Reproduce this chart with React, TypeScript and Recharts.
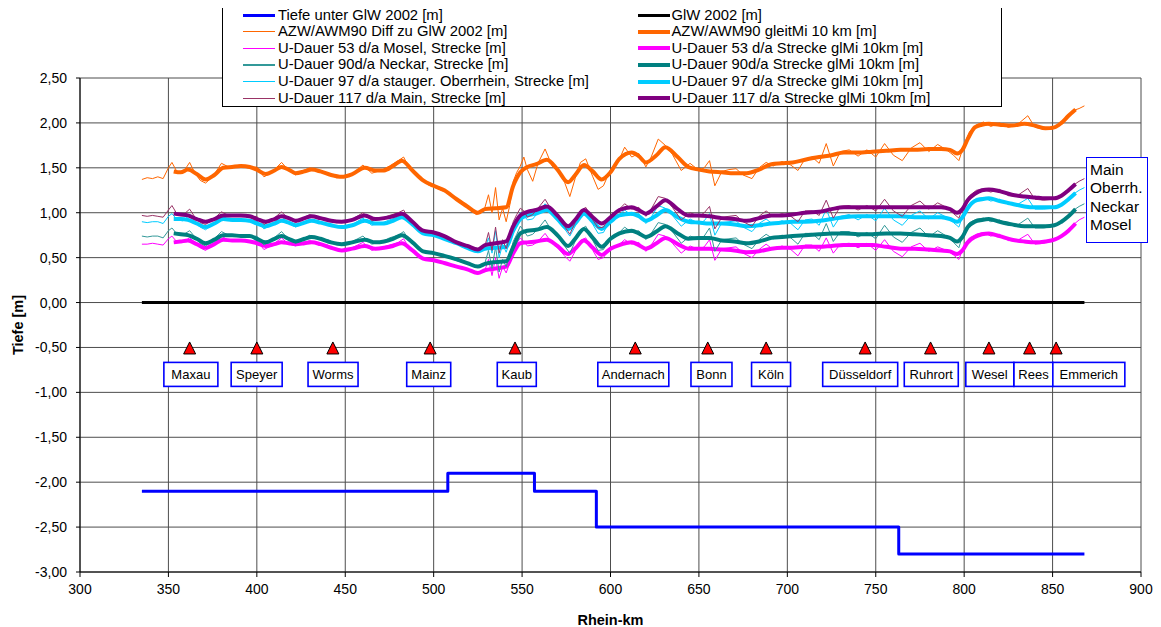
import React from 'react';
import { ComposedChart, Line, Scatter, XAxis, YAxis, CartesianGrid, Legend } from 'recharts';

// ---------- data ----------
const tiefeKm = [335, 508, 557, 592, 763, 868];
const tiefeVal = [-2.1, -1.9, -2.1, -2.5, -2.8, -2.8];
const glwKm = [335, 868];
const glwVal = [0, 0];

const smoothKm = [353, 357, 361, 366, 371, 376, 381, 386, 391, 396,
  400, 405, 410, 414, 418, 422, 427, 431, 436, 442,
  448, 454, 461, 467, 472, 477, 482, 488, 494, 500,
  506, 513, 519, 525, 529, 535, 541, 545, 549, 553,
  558, 564, 570, 576, 580, 585, 590, 595, 600, 605,
  612, 616, 620, 626, 631, 638, 644, 650, 656, 663,
  670, 677, 684, 691, 697, 703, 710, 718, 725, 732,
  740, 748, 756, 764, 772, 780, 787, 792, 796, 799,
  802, 806, 810, 814, 820, 827, 834, 840, 846, 851,
  855, 859, 863];

const azwSmooth = [1.46, 1.45, 1.48, 1.43, 1.37, 1.42, 1.50, 1.51, 1.52, 1.51,
  1.48, 1.43, 1.47, 1.51, 1.48, 1.44, 1.46, 1.48, 1.46, 1.42,
  1.40, 1.43, 1.50, 1.47, 1.47, 1.52, 1.58, 1.47, 1.36, 1.30,
  1.25, 1.15, 1.07, 1.00, 1.04, 1.05, 1.06, 1.30, 1.45, 1.51,
  1.54, 1.59, 1.48, 1.34, 1.42, 1.53, 1.46, 1.37, 1.45, 1.60,
  1.67, 1.63, 1.56, 1.64, 1.73, 1.62, 1.51, 1.48, 1.46, 1.45,
  1.44, 1.44, 1.48, 1.54, 1.55, 1.56, 1.59, 1.62, 1.64, 1.67,
  1.67, 1.68, 1.69, 1.70, 1.70, 1.71, 1.71, 1.70, 1.66, 1.70,
  1.82, 1.95, 1.98, 1.99, 1.98, 1.97, 1.99, 1.97, 1.94, 1.95,
  2.00, 2.08, 2.15];

const mainSmooth = [0.99, 0.98, 0.97, 0.93, 0.90, 0.93, 0.97, 0.97, 0.97, 0.96,
  0.93, 0.90, 0.93, 0.96, 0.94, 0.91, 0.94, 0.96, 0.94, 0.91,
  0.90, 0.92, 0.97, 0.93, 0.94, 0.96, 0.99, 0.90, 0.80, 0.78,
  0.74, 0.67, 0.63, 0.59, 0.64, 0.66, 0.68, 0.85, 0.97, 1.01,
  1.03, 1.07, 0.97, 0.85, 0.92, 1.03, 0.95, 0.88, 0.95, 1.03,
  1.06, 1.03, 0.99, 1.07, 1.14, 1.04, 0.97, 0.97, 0.96, 0.94,
  0.93, 0.91, 0.94, 0.97, 0.97, 0.98, 1.00, 1.01, 1.04, 1.06,
  1.06, 1.06, 1.06, 1.06, 1.06, 1.06, 1.06, 1.04, 1.00, 1.04,
  1.14, 1.21, 1.25, 1.26, 1.24, 1.20, 1.18, 1.17, 1.16, 1.16,
  1.19, 1.25, 1.32];

const oberSmooth = [0.93, 0.93, 0.92, 0.88, 0.84, 0.88, 0.93, 0.92, 0.92, 0.91,
  0.88, 0.85, 0.88, 0.91, 0.89, 0.86, 0.89, 0.91, 0.89, 0.86,
  0.84, 0.86, 0.91, 0.88, 0.88, 0.91, 0.95, 0.87, 0.77, 0.75,
  0.71, 0.66, 0.61, 0.57, 0.60, 0.61, 0.62, 0.80, 0.93, 0.97,
  0.99, 1.03, 0.93, 0.82, 0.88, 0.99, 0.90, 0.82, 0.90, 0.97,
  0.99, 0.96, 0.91, 0.97, 1.03, 0.95, 0.90, 0.89, 0.88, 0.88,
  0.87, 0.85, 0.86, 0.88, 0.89, 0.90, 0.90, 0.91, 0.93, 0.95,
  0.96, 0.96, 0.96, 0.96, 0.95, 0.95, 0.95, 0.93, 0.90, 0.95,
  1.05, 1.13, 1.15, 1.16, 1.13, 1.10, 1.07, 1.06, 1.06, 1.06,
  1.09, 1.15, 1.22];

const neckarSmooth = [0.77, 0.76, 0.75, 0.71, 0.66, 0.70, 0.75, 0.75, 0.74, 0.74,
  0.71, 0.67, 0.71, 0.74, 0.71, 0.68, 0.71, 0.73, 0.71, 0.67,
  0.65, 0.67, 0.70, 0.67, 0.68, 0.71, 0.75, 0.67, 0.57, 0.55,
  0.52, 0.48, 0.44, 0.40, 0.43, 0.45, 0.46, 0.62, 0.77, 0.80,
  0.81, 0.84, 0.75, 0.63, 0.71, 0.82, 0.72, 0.62, 0.71, 0.77,
  0.80, 0.77, 0.73, 0.79, 0.85, 0.77, 0.71, 0.72, 0.72, 0.69,
  0.68, 0.66, 0.68, 0.72, 0.73, 0.74, 0.75, 0.76, 0.77, 0.77,
  0.76, 0.76, 0.77, 0.77, 0.76, 0.75, 0.74, 0.72, 0.68, 0.73,
  0.84, 0.90, 0.92, 0.93, 0.90, 0.87, 0.85, 0.85, 0.85, 0.86,
  0.90, 0.96, 1.04];

const moselSmooth = [0.67, 0.68, 0.69, 0.65, 0.61, 0.65, 0.70, 0.69, 0.69, 0.68,
  0.66, 0.63, 0.65, 0.67, 0.66, 0.65, 0.66, 0.67, 0.65, 0.61,
  0.58, 0.60, 0.63, 0.60, 0.61, 0.63, 0.66, 0.58, 0.49, 0.47,
  0.44, 0.40, 0.37, 0.33, 0.36, 0.38, 0.40, 0.55, 0.66, 0.67,
  0.68, 0.70, 0.63, 0.54, 0.60, 0.69, 0.61, 0.53, 0.60, 0.64,
  0.67, 0.64, 0.60, 0.66, 0.72, 0.65, 0.60, 0.60, 0.60, 0.59,
  0.58, 0.56, 0.57, 0.60, 0.61, 0.61, 0.62, 0.62, 0.63, 0.64,
  0.64, 0.64, 0.62, 0.60, 0.60, 0.59, 0.58, 0.57, 0.54, 0.58,
  0.67, 0.73, 0.76, 0.77, 0.74, 0.70, 0.68, 0.67, 0.68, 0.70,
  0.74, 0.80, 0.88];

const thinKm = [335, 338, 341, 344, 347, 350, 352, 355, 358, 362,
  365, 368, 371, 375, 380, 385, 390, 395, 400, 404,
  408, 414, 418, 422, 426, 430, 435, 440, 445, 450,
  455, 460, 465, 470, 475, 480, 483, 487, 492, 497,
  502, 508, 514, 520, 524, 527, 529, 531, 533, 535,
  537, 539, 541, 543, 545, 547, 549, 551, 553, 556,
  559, 563, 567, 571, 574, 577, 580, 583, 586, 590,
  593, 596, 600, 604, 608, 612, 616, 620, 623, 627,
  631, 635, 640, 645, 650, 653, 656, 659, 663, 667,
  671, 675, 680, 684, 688, 692, 697, 702, 706, 710,
  714, 718, 722, 726, 730, 735, 740, 745, 750, 755,
  760, 765, 770, 775, 780, 785, 790, 794, 797, 800,
  803, 807, 811, 815, 820, 825, 830, 836, 840, 845,
  850, 854, 858, 862, 865, 868];

const azwThin = [1.37, 1.39, 1.38, 1.40, 1.38, 1.50, 1.56, 1.45, 1.44, 1.56,
  1.44, 1.36, 1.33, 1.40, 1.55, 1.50, 1.53, 1.50, 1.51, 1.40,
  1.44, 1.56, 1.47, 1.42, 1.47, 1.50, 1.45, 1.44, 1.39, 1.40,
  1.45, 1.53, 1.44, 1.47, 1.52, 1.58, 1.62, 1.47, 1.38, 1.31,
  1.27, 1.22, 1.12, 1.05, 0.98, 1.00, 1.06, 1.20, 1.00, 1.28,
  0.92, 1.05, 0.90, 1.08, 1.35, 1.45, 1.52, 1.62, 1.48, 1.35,
  1.55, 1.71, 1.52, 1.44, 1.34, 1.18, 1.38, 1.56, 1.60, 1.40,
  1.26, 1.30, 1.48, 1.55, 1.73, 1.62, 1.66, 1.51, 1.62, 1.82,
  1.75, 1.65, 1.47, 1.55, 1.47, 1.50, 1.58, 1.30, 1.46, 1.48,
  1.49, 1.42, 1.38, 1.50, 1.56, 1.52, 1.57, 1.53, 1.47, 1.60,
  1.62, 1.55, 1.77, 1.52, 1.68, 1.70, 1.63, 1.70, 1.62, 1.77,
  1.64, 1.58, 1.72, 1.78, 1.68, 1.76, 1.70, 1.64, 1.58, 1.76,
  1.90, 1.98, 2.01, 1.96, 2.00, 1.95, 1.98, 2.08, 1.95, 1.93,
  1.93, 1.97, 2.08, 2.14, 2.16, 2.19];

const mainThin = [0.97, 0.96, 0.97, 0.96, 0.95, 1.03, 1.08, 0.98, 0.97, 1.04,
  0.95, 0.89, 0.87, 0.92, 1.01, 0.96, 0.98, 0.95, 0.96, 0.87,
  0.91, 1.01, 0.93, 0.89, 0.94, 0.98, 0.93, 0.93, 0.89, 0.89,
  0.94, 1.00, 0.91, 0.93, 0.97, 1.00, 1.03, 0.90, 0.82, 0.78,
  0.78, 0.71, 0.65, 0.62, 0.58, 0.60, 0.63, 0.78, 0.58, 0.84,
  0.55, 0.70, 0.60, 0.72, 0.90, 0.98, 1.05, 1.02, 0.95, 0.98,
  1.05, 1.15, 1.02, 0.93, 0.85, 0.76, 0.89, 1.02, 1.06, 0.92,
  0.83, 0.84, 0.97, 1.02, 1.10, 1.04, 1.06, 0.96, 1.04, 1.18,
  1.16, 1.06, 0.92, 1.00, 0.96, 1.00, 1.07, 0.82, 0.95, 0.96,
  0.97, 0.90, 0.85, 0.96, 1.02, 0.96, 0.99, 0.96, 0.90, 1.02,
  1.02, 0.97, 1.14, 0.94, 1.07, 1.08, 1.03, 1.08, 1.02, 1.15,
  1.02, 0.96, 1.08, 1.13, 1.04, 1.11, 1.06, 0.99, 0.94, 1.10,
  1.19, 1.25, 1.26, 1.23, 1.26, 1.19, 1.19, 1.27, 1.15, 1.14,
  1.15, 1.18, 1.25, 1.31, 1.35, 1.38];

const oberThin = [0.90, 0.89, 0.90, 0.90, 0.88, 0.96, 0.99, 0.92, 0.91, 0.97,
  0.90, 0.84, 0.81, 0.87, 0.97, 0.91, 0.93, 0.90, 0.91, 0.82,
  0.86, 0.96, 0.88, 0.84, 0.89, 0.93, 0.88, 0.88, 0.84, 0.84,
  0.88, 0.94, 0.86, 0.88, 0.92, 0.95, 0.99, 0.87, 0.79, 0.75,
  0.74, 0.69, 0.64, 0.59, 0.56, 0.58, 0.60, 0.72, 0.55, 0.80,
  0.50, 0.65, 0.56, 0.68, 0.85, 0.92, 1.00, 0.97, 0.92, 0.93,
  1.00, 1.10, 0.98, 0.89, 0.82, 0.74, 0.85, 0.98, 1.02, 0.87,
  0.77, 0.78, 0.92, 0.96, 1.03, 0.97, 0.99, 0.88, 0.95, 1.08,
  1.05, 0.97, 0.85, 0.93, 0.88, 0.91, 0.99, 0.75, 0.89, 0.90,
  0.91, 0.84, 0.79, 0.88, 0.93, 0.87, 0.91, 0.88, 0.81, 0.92,
  0.93, 0.86, 1.04, 0.84, 0.96, 0.98, 0.92, 0.98, 0.91, 1.05,
  0.92, 0.86, 0.97, 1.02, 0.93, 1.00, 0.95, 0.89, 0.84, 1.01,
  1.10, 1.16, 1.17, 1.13, 1.15, 1.09, 1.09, 1.16, 1.04, 1.04,
  1.05, 1.08, 1.14, 1.21, 1.25, 1.28];

const neckarThin = [0.74, 0.73, 0.74, 0.74, 0.72, 0.80, 0.83, 0.76, 0.75, 0.80,
  0.73, 0.66, 0.63, 0.69, 0.79, 0.74, 0.75, 0.73, 0.74, 0.64,
  0.69, 0.79, 0.70, 0.66, 0.71, 0.75, 0.70, 0.70, 0.65, 0.64,
  0.69, 0.74, 0.65, 0.67, 0.72, 0.75, 0.79, 0.67, 0.59, 0.55,
  0.55, 0.50, 0.46, 0.43, 0.39, 0.41, 0.44, 0.58, 0.38, 0.62,
  0.34, 0.48, 0.40, 0.52, 0.68, 0.76, 0.85, 0.80, 0.74, 0.76,
  0.82, 0.92, 0.79, 0.71, 0.63, 0.55, 0.68, 0.81, 0.85, 0.69,
  0.58, 0.59, 0.73, 0.76, 0.84, 0.78, 0.80, 0.70, 0.77, 0.89,
  0.87, 0.79, 0.66, 0.74, 0.71, 0.74, 0.83, 0.57, 0.70, 0.71,
  0.72, 0.65, 0.60, 0.70, 0.76, 0.71, 0.75, 0.72, 0.65, 0.77,
  0.77, 0.70, 0.88, 0.68, 0.79, 0.79, 0.73, 0.78, 0.71, 0.86,
  0.73, 0.67, 0.78, 0.83, 0.73, 0.80, 0.74, 0.67, 0.61, 0.80,
  0.89, 0.93, 0.94, 0.90, 0.92, 0.86, 0.86, 0.94, 0.83, 0.83,
  0.85, 0.89, 0.96, 1.03, 1.07, 1.10];

const moselThin = [0.65, 0.65, 0.66, 0.65, 0.64, 0.71, 0.74, 0.67, 0.67, 0.72,
  0.67, 0.61, 0.58, 0.64, 0.74, 0.68, 0.70, 0.67, 0.69, 0.59,
  0.63, 0.72, 0.65, 0.63, 0.67, 0.69, 0.64, 0.64, 0.59, 0.57,
  0.62, 0.67, 0.58, 0.61, 0.64, 0.67, 0.71, 0.58, 0.51, 0.47,
  0.46, 0.42, 0.39, 0.36, 0.32, 0.34, 0.36, 0.48, 0.30, 0.50,
  0.27, 0.40, 0.33, 0.44, 0.60, 0.66, 0.72, 0.68, 0.63, 0.64,
  0.68, 0.77, 0.66, 0.59, 0.52, 0.46, 0.57, 0.69, 0.72, 0.58,
  0.48, 0.50, 0.62, 0.63, 0.70, 0.65, 0.67, 0.57, 0.64, 0.76,
  0.74, 0.66, 0.55, 0.63, 0.59, 0.62, 0.70, 0.47, 0.60, 0.61,
  0.62, 0.55, 0.50, 0.59, 0.65, 0.59, 0.63, 0.59, 0.52, 0.64,
  0.64, 0.57, 0.72, 0.55, 0.65, 0.66, 0.61, 0.66, 0.58, 0.70,
  0.57, 0.51, 0.62, 0.66, 0.57, 0.62, 0.58, 0.53, 0.48, 0.64,
  0.72, 0.76, 0.78, 0.74, 0.76, 0.69, 0.69, 0.76, 0.65, 0.66,
  0.69, 0.73, 0.80, 0.87, 0.92, 0.95];

const stationNames = ['Maxau', 'Speyer', 'Worms', 'Mainz', 'Kaub', 'Andernach', 'Bonn', 'Köln', 'Düsseldorf', 'Ruhrort', 'Wesel', 'Rees', 'Emmerich'];
const stationKm = [362, 400, 443, 498, 546, 614, 655, 688, 744, 781, 814, 837, 852];
const stationLevel = -0.5;
const labelLevel = -0.8;

const xTicks = [300, 350, 400, 450, 500, 550, 600, 650, 700, 750, 800, 850, 900];
const yTicks = [-3, -2.5, -2, -1.5, -1, -0.5, 0, 0.5, 1, 1.5, 2, 2.5];
const sideLabels = ['Main', 'Oberrh.', 'Neckar', 'Mosel'];

// ---------- layout (not data) ----------
const labelCenterKm = [362.7, 399.9, 443.1, 497.2, 547.0, 612.9, 657.1, 690.8, 741.2, 781.4, 814.5, 839.2, 870.5];
const labelBoxWidth = [54, 51, 50, 44, 39, 71, 41, 39, 75, 54, 48, 39, 72];

const W = 1153;
const H = 619;
const FONT = '"Liberation Sans", Arial, Helvetica, sans-serif';

const rows = (km: number[], v: number[]) => km.map((k, i) => ({ km: k, v: v[i] }));

type S = { name: string; data: any[]; color: string; width: number; curve: 'stepAfter' | 'linear' | 'monotone' };

const series: S[] = [
  { name: 'Tiefe unter GlW 2002 [m]', data: rows(tiefeKm, tiefeVal), color: '#0000FF', width: 3, curve: 'stepAfter' },
  { name: 'GlW 2002 [m]', data: rows(glwKm, glwVal), color: '#000000', width: 3, curve: 'linear' },
  { name: 'AZW/AWM90 Diff zu GlW 2002 [m]', data: rows(thinKm, azwThin), color: '#FF6600', width: 1, curve: 'linear' },
  { name: 'AZW/AWM90 gleitMi 10 km [m]', data: rows(smoothKm, azwSmooth), color: '#FF6600', width: 4, curve: 'monotone' },
  { name: 'U-Dauer 53 d/a Mosel, Strecke [m]', data: rows(thinKm, moselThin), color: '#FF00FF', width: 1, curve: 'linear' },
  { name: 'U-Dauer 53 d/a Strecke glMi 10km [m]', data: rows(smoothKm, moselSmooth), color: '#FF00FF', width: 4, curve: 'monotone' },
  { name: 'U-Dauer 90d/a Neckar, Strecke [m]', data: rows(thinKm, neckarThin), color: '#339999', width: 1, curve: 'linear' },
  { name: 'U-Dauer 90d/a Strecke glMi 10km [m]', data: rows(smoothKm, neckarSmooth), color: '#008080', width: 4, curve: 'monotone' },
  { name: 'U-Dauer 97 d/a stauger. Oberrhein, Strecke [m]', data: rows(thinKm, oberThin), color: '#00CCFF', width: 1, curve: 'linear' },
  { name: 'U-Dauer 97 d/a Strecke glMi 10km [m]', data: rows(smoothKm, oberSmooth), color: '#00CCFF', width: 4, curve: 'monotone' },
  { name: 'U-Dauer 117 d/a Main, Strecke [m]', data: rows(thinKm, mainThin), color: '#993366', width: 1, curve: 'linear' },
  { name: 'U-Dauer 117 d/a Strecke glMi 10km [m]', data: rows(smoothKm, mainSmooth), color: '#800080', width: 4, curve: 'monotone' },
];

const stationRows = stationKm.map((k, i) => ({ km: k, y: stationLevel, name: stationNames[i] }));
const labelRows = labelCenterKm.map((k, i) => ({ km: k, y: labelLevel, name: stationNames[i], w: labelBoxWidth[i] }));

const fmt = (v: number) => v.toFixed(2).replace('.', ',');

const Triangle = (props: any) => {
  const { cx, cy } = props;
  if (cx == null || cy == null) return null;
  const pts = `${cx},${cy - 5.5} ${cx - 6},${cy + 6.5} ${cx + 6},${cy + 6.5}`;
  return <polygon points={pts} fill="#FF0000" stroke="#000" strokeWidth={1} />;
};

const LabelBox = (props: any) => {
  const { cx, cy, payload } = props;
  if (cx == null || cy == null) return null;
  const w = payload.w;
  return (
    <g>
      <rect x={cx - w / 2} y={cy - 12} width={w} height={24} fill="#fff" stroke="#0000FF" strokeWidth={1.6} />
      <text x={cx} y={cy + 4.5} textAnchor="middle" fontSize={13} fontFamily={FONT} fill="#000">{payload.name}</text>
    </g>
  );
};

const rowY = (i: number) => 11.5 + i * 16.65;

const LegendBox = () => (
  <div style={{ position: 'relative', width: 780, height: 103.5, border: '1px solid #000', background: '#fff', boxSizing: 'border-box', fontFamily: FONT, fontSize: 14.8, color: '#000' }}>
    {series.map((s, i) => {
      const col = i % 2;
      const row = Math.floor(i / 2);
      const lx = col === 0 ? 20 : 414.5;
      const tx = col === 0 ? 55 : 448.5;
      const y = rowY(row);
      const lw = s.width === 1 ? 1.5 : s.width;
      return (
        <React.Fragment key={i}>
          <div style={{ position: 'absolute', left: lx, top: y - lw / 2 - 1, width: 32, height: lw, background: s.color }} />
          <div style={{ position: 'absolute', left: tx, top: y - 9.5, whiteSpace: 'nowrap', lineHeight: '17px' }}>{s.name}</div>
        </React.Fragment>
      );
    })}
  </div>
);

export default function App() {
  return (
    <div style={{ position: 'relative', width: W, height: H }}>
      <ComposedChart width={W} height={H} margin={{ top: 70, right: 20, bottom: 0, left: 12 }}>
        <CartesianGrid stroke="#4d4d4d" strokeWidth={1} />
        <XAxis
          dataKey="km"
          type="number"
          domain={[300, 900]}
          ticks={xTicks}
          interval={0}
          height={55}
          tickSize={5}
          tickMargin={7}
          axisLine={{ stroke: '#000' }}
          tickLine={{ stroke: '#000' }}
          tick={{ fill: '#000', fontSize: 14, fontFamily: FONT }}
          label={{ value: 'Rhein-km', position: 'insideBottom', offset: 2, style: { fontWeight: 'bold', fontSize: 14.5, fontFamily: FONT, fill: '#000' } }}
        />
        <YAxis
          type="number"
          domain={[-3, 2.5]}
          ticks={yTicks}
          interval={0}
          width={60}
          tickSize={4}
          tickMargin={9}
          tickFormatter={fmt}
          axisLine={{ stroke: '#000' }}
          tickLine={{ stroke: '#000' }}
          tick={{ fill: '#000', fontSize: 14, fontFamily: FONT }}
          label={{
            content: () => (
              <text x={10} y={317} transform="rotate(-90 10 317)" textAnchor="middle" dominantBaseline="central" fontWeight="bold" fontSize={14.5} fontFamily={FONT} fill="#000">Tiefe [m]</text>
            ),
          }}
        />
        {series.map((s, i) => (
          <Line
            key={i}
            data={s.data}
            dataKey="v"
            name={s.name}
            type={s.curve}
            stroke={s.color}
            strokeWidth={s.width}
            strokeLinejoin="round"
            dot={false}
            activeDot={false}
            isAnimationActive={false}
            legendType="none"
          />
        ))}
        <Scatter data={stationRows} dataKey="y" shape={Triangle} isAnimationActive={false} legendType="none" />
        <Scatter data={labelRows} dataKey="y" shape={LabelBox} isAnimationActive={false} legendType="none" />
        <Legend
          layout="horizontal"
          verticalAlign="middle"
          align="center"
          content={() => <LegendBox />}
          wrapperStyle={{ left: 214, top: -4.5, width: 780, height: 103.5 }}
        />
      </ComposedChart>
      <div style={{ position: 'absolute', left: 1078, top: 149.3, width: 62, height: 86, border: '1.6px solid #0000FF', background: '#fff', boxSizing: 'border-box', fontFamily: FONT, fontSize: 15.5, lineHeight: '18.5px', paddingLeft: 3, paddingTop: 2.5, color: '#000' }}>
        {sideLabels.map((t) => (<div key={t}>{t}</div>))}
      </div>
    </div>
  );
}
